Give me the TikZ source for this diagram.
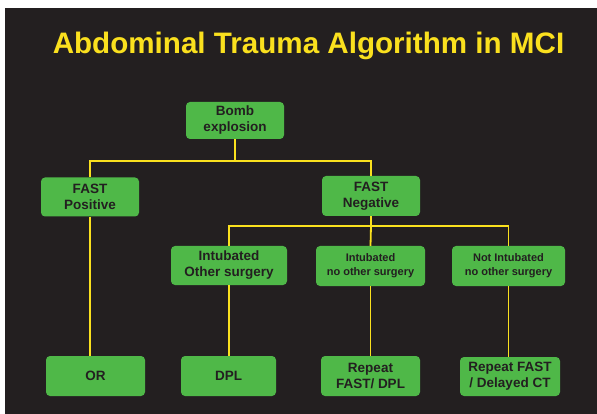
\documentclass[tikz,border=0pt]{standalone}
\usepackage{fontspec}
\setmainfont{Liberation Sans}
\definecolor{slidebg}{HTML}{231F20}
\definecolor{boxgreen}{HTML}{4FB848}
\definecolor{linkyellow}{HTML}{FAE01E}
\tikzset{
	box/.style={fill=boxgreen, rounded corners=4pt, align=center, inner sep=0pt, text=slidebg,
		font=\bfseries\fontsize{13.5}{16}\selectfont},
	smallbox/.style={box, font=\bfseries\fontsize{11}{14}\selectfont},
	link/.style={draw=linkyellow, line width=1.8pt}
}
\begin{document}
\begin{tikzpicture}[x=1pt, y=-1pt]
		\useasboundingbox (0,0) rectangle (597,414);
		\fill[white] (0,0) rectangle (597,414);
		\fill[slidebg] (5,8) rectangle (597,414);
		\node (title) [anchor=base, text=linkyellow, font=\bfseries\fontsize{29.6}{34}\selectfont] at (308.5,54) {Abdominal Trauma Algorithm in MCI};
		\node (bomb) [box, minimum width=98pt, minimum height=37pt] at (235,120.5) {Bomb\\explosion};
		\node (pos) [box, minimum width=98pt, minimum height=39pt] at (90,197) {FAST\\Positive};
		\node (neg) [box, minimum width=98pt, minimum height=40pt] at (371,196) {FAST\\Negative};
		\node (intother) [box, minimum width=116pt, minimum height=39pt] at (229,265.5) {Intubated\\Other surgery};
		\node (intnone) [smallbox, minimum width=109pt, minimum height=40pt] at (370.5,266) {Intubated\\no other surgery};
		\node (notint) [smallbox, minimum width=113pt, minimum height=40pt] at (508.5,266) {Not Intubated\\no other surgery};
		\node (or) [box, minimum width=99pt, minimum height=40pt] at (95.5,376) {OR};
		\node (dpl) [box, minimum width=95pt, minimum height=40pt] at (228.5,376) {DPL};
		\node (rep) [box, minimum width=99pt, minimum height=40pt] at (370.5,376) {Repeat\\FAST/ DPL};
		\node (delay) [box, minimum width=100pt, minimum height=39pt] at (510,376.5) {Repeat FAST\\/ Delayed CT};
		\coordinate (split1) at (235,161);
		\coordinate (split2) at (371,226);
		\draw[link] (bomb.south) -- (split1);
		\draw[link] (pos.north) -- (pos.north |- split1) -| (neg.north);
		\draw[link] (neg.south) -- (split2);
		\draw[link] (intother.north) -- (intother.north |- split2) -| (notint.north);
		\draw[link] (split2) -- (intnone.north);
		\draw[link] (pos.south) -- (pos.south |- or.north);
		\draw[link] (intother.south) -- (intother.south |- dpl.north);
		\draw[link] (intnone.south) -- (intnone.south |- rep.north);
		\draw[link] (notint.south) -- (notint.south |- delay.north);
		\end{tikzpicture}
\end{document}
